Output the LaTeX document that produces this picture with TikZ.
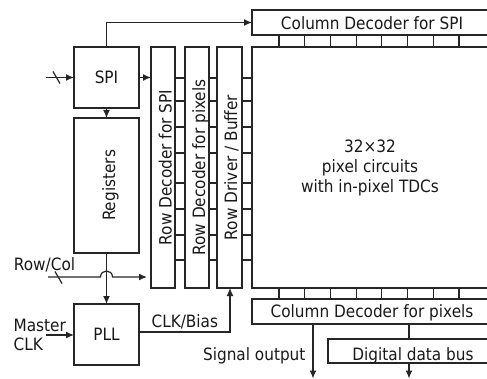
\documentclass[tikz,border=0pt]{standalone}
\usepackage{fontspec}
\setmainfont{DejaVu Sans}[FakeStretch=0.9]
\usetikzlibrary{arrows.meta,calc}
\begin{document}
\begin{tikzpicture}[x=1pt,y=-1pt,line width=1.2pt,draw=black!85,
  box/.style={draw,inner sep=0pt,outer sep=0pt,anchor=north west},
  lbl/.style={font=\fontsize{17}{20}\selectfont,inner sep=0pt,text=black!90},
  arr/.style={-{Latex[length=8pt,width=7pt]}}]
\useasboundingbox (0,0) rectangle (487,379);
\clip (0,0) rectangle (487,379);
% boxes
\node[box,minimum width=65pt,minimum height=61pt] (spi) at (74,47) {};
\node[box,minimum width=65pt,minimum height=135pt] (reg) at (74,118) {};
\node[box,minimum width=65pt,minimum height=61pt] (pll) at (74,304) {};
\node[box,minimum width=24pt,minimum height=241pt] (rds) at (151,47) {};
\node[box,minimum width=24pt,minimum height=241pt] (rdp) at (185,47) {};
\node[box,minimum width=25pt,minimum height=241pt] (rdb) at (217,47) {};
\node[box,minimum width=245pt,minimum height=241pt] (pix) at (252,47) {};
\node[box,minimum width=245pt,minimum height=25pt] (cds) at (252,10) {};
\node[box,minimum width=245pt,minimum height=25pt] (cdp) at (252,299) {};
\node[box,minimum width=169pt,minimum height=24pt] (bus) at (328,339) {};
% labels
\node[lbl] (spit) at (spi.center) {SPI};
\node[lbl] (pllt) at (pll.center) {PLL};
\node[lbl,rotate=90,anchor=base] (regt) at (115,185.5) {Registers};
\node[lbl,rotate=90,anchor=base] (rdst) at (171.5,167.5) {Row Decoder for SPI};
\node[lbl,rotate=90,anchor=base] (rdpt) at (205,167.5) {Row Decoder for pixels};
\node[lbl,rotate=90,anchor=base] (rdbt) at (237,167.5) {Row Driver / Buffer};
\node[lbl,anchor=base] (cdst) at (372,30) {Column Decoder for SPI};
\node[lbl,anchor=base] (cdpt) at (372,317) {Column Decoder for pixels};
\node[lbl,anchor=base] (bust) at (413,360) {Digital data bus};
\node[lbl,align=center] (pixt) at (370,167.5) {32×32\\pixel circuits\\with in-pixel TDCs};
\node[lbl,anchor=base] (rct) at (44.5,270) {Row/Col};
\node[lbl,anchor=base west] (mt) at (13,331) {Master};
\node[lbl,anchor=base west] (ct) at (13,350) {CLK};
\node[lbl,anchor=base west] (cbt) at (151,327) {CLK/Bias};
\node[lbl,anchor=base east] (sot) at (306,360) {Signal output};
% ticks
\foreach \k in {0,...,7} {
  \draw ({279+25.7*\k},35) -- ({279+25.7*\k},47);
  \draw ({279+25.7*\k},288) -- ({279+25.7*\k},299);
}
\foreach \yy in {78,101,127,153,183,209,235,260} {
  \draw (rds.east |- 0,\yy) -- (rdp.west |- 0,\yy);
  \draw (rdp.east |- 0,\yy) -- (rdb.west |- 0,\yy);
  \draw (rdb.east |- 0,\yy) -- (pix.west |- 0,\yy);
}
% connectors
\coordinate (spiin) at (46,77.5);
\draw[arr] (spiin) -- (spi.west);
\draw (53,71.5) -- (60,83.5);
\draw[arr] (spi.north) -- (spi.north |- cds.west) -- (cds.west);
\draw[arr] (spi.east) -- (spi.east -| rds.west);
\draw[arr] (spi.south) -- (reg.north);
\draw[arr] (reg.south) -- (pll.north);
\coordinate (rcin) at (48,277);
\draw[arr,shorten >=4pt] (rcin) -- (100.5,277) .. controls (100.5,269) and (112.5,269) .. (112.5,277) -- (rcin -| rds.west);
\draw (55,271.5) -- (62,283.5);
\coordinate (mclk) at (46,335);
\draw[arr] (mclk) -- (mclk -| pll.west);
\coordinate (clkb) at (230,332);
\draw[arr] (pll.east |- clkb) -- (clkb) -- (clkb |- rdb.south);
\coordinate (sigout) at (313,378.5);
\draw[arr] (sigout |- cdp.south) -- (sigout);
\coordinate (busout) at (409,378.5);
\draw (cdp.south -| busout) -- (bus.north -| busout);
\draw[arr] (bus.south -| busout) -- (busout);
\end{tikzpicture}
\end{document}
